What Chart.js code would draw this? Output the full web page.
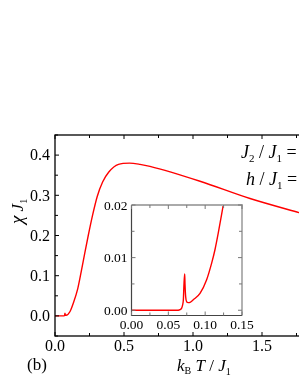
<!DOCTYPE html>
<html>
<head>
<meta charset="utf-8">
<script src="https://cdn.jsdelivr.net/npm/chart.js@4/dist/chart.umd.min.js"></script>
<style>
  html, body { margin: 0; padding: 0; background: #fff; overflow: hidden; }
  #wrap { position: relative; width: 299px; height: 387px; overflow: hidden; }
  #wrap canvas { position: absolute; left: 0; top: 0; }
</style>
</head>
<body>
<div id="wrap">
  <canvas id="main" width="320" height="387"></canvas>
  <canvas id="inset" width="299" height="387"></canvas>
</div>
<script>
// main curve: chi*J1 vs kB T / J1
const mainT   = [0, 0.05, 0.065, 0.07, 0.0722, 0.075, 0.08, 0.109, 0.133, 0.165, 0.19, 0.215, 0.241, 0.272, 0.306, 0.345, 0.39, 0.46, 0.54, 0.616, 0.688, 1.051, 1.413, 1.768, 1.8];
const mainChi = [0, 0, 0, 0.002, 0.0069, 0.0016, 0.0015, 0.011, 0.032, 0.068, 0.11, 0.155, 0.2, 0.25, 0.297, 0.333, 0.358, 0.377, 0.380, 0.377, 0.372, 0.335, 0.292, 0.257, 0.254];

// inset curve (low temperature zoom)
const insetT   = [0, 0.0635, 0.0658, 0.0681, 0.0694, 0.0704, 0.0713, 0.0722, 0.0726, 0.0735, 0.0749, 0.0771, 0.0794, 0.0839, 0.093, 0.102, 0.1089, 0.1133, 0.1178, 0.1246];
const insetChi = [0, 0, 0.0001, 0.0004, 0.001, 0.002, 0.0051, 0.0069, 0.0051, 0.0026, 0.0016, 0.00145, 0.0015, 0.002, 0.0032, 0.0058, 0.009, 0.0115, 0.0147, 0.020];

// tick labels
const mainXTicks  = ['0.0', '0.5', '1.0', '1.5'];
const mainYTicks  = ['0.0', '0.1', '0.2', '0.3', '0.4'];
const insetXTicks = ['0.00', '0.05', '0.10', '0.15'];
const insetYTicks = ['0.00', '0.01', '0.02'];

const SERIF = '"Liberation Serif", "Times New Roman", serif';

function toPoints(xs, ys) {
  return xs.map((x, i) => ({ x: x, y: ys[i] }));
}

// draw a run of text pieces (for italic + subscripts)
function drawRich(ctx, x, y, parts) {
  ctx.textBaseline = 'alphabetic';
  ctx.textAlign = 'left';
  for (const p of parts) {
    ctx.font = p.font;
    ctx.fillText(p.t, x, y + (p.dy || 0));
    x += ctx.measureText(p.t).width;
  }
}

function drawTicks(ctx, scale, vals, side, len, area) {
  ctx.beginPath();
  for (const v of vals) {
    const p = scale.getPixelForValue(v);
    if (side === 'bottom') { ctx.moveTo(p, area.bottom); ctx.lineTo(p, area.bottom - len); }
    if (side === 'top')    { ctx.moveTo(p, area.top);    ctx.lineTo(p, area.top + len); }
    if (side === 'left')   { ctx.moveTo(area.left, p);   ctx.lineTo(area.left + len, p); }
    if (side === 'right')  { ctx.moveTo(area.right, p);  ctx.lineTo(area.right - len, p); }
  }
  ctx.stroke();
}

const mainAxes = {
  id: 'mainAxes',
  afterDraw(chart) {
    const ctx = chart.ctx, a = chart.chartArea;
    const xs = chart.scales.x, ys = chart.scales.y;
    ctx.save();
    ctx.strokeStyle = '#000';
    ctx.lineWidth = 1.3;
    ctx.strokeRect(a.left, a.top, a.right - a.left, a.bottom - a.top);

    ctx.lineWidth = 1;
    const xMaj = mainXTicks.map(Number), xMin = [0.25, 0.75, 1.25, 1.75];
    const yMaj = mainYTicks.map(Number), yMin = [-0.05, 0.05, 0.15, 0.25, 0.35, 0.45];
    drawTicks(ctx, xs, xMaj, 'bottom', 4, a);
    drawTicks(ctx, xs, xMin, 'bottom', 3, a);
    drawTicks(ctx, xs, xMaj, 'top', 4, a);
    drawTicks(ctx, xs, xMin, 'top', 3, a);
    drawTicks(ctx, ys, yMaj, 'left', 4, a);
    drawTicks(ctx, ys, yMin, 'left', 3, a);

    ctx.fillStyle = '#000';
    ctx.font = '16px ' + SERIF;
    ctx.textAlign = 'center';
    ctx.textBaseline = 'top';
    mainXTicks.forEach(t => ctx.fillText(t, xs.getPixelForValue(Number(t)), a.bottom + 3));
    ctx.textAlign = 'right';
    ctx.textBaseline = 'middle';
    mainYTicks.forEach(t => ctx.fillText(t, a.left - 5, ys.getPixelForValue(Number(t)) + 1));

    // axis titles
    const it = 'italic 17px ' + SERIF, up = '17px ' + SERIF, sub = '10px ' + SERIF;
    drawRich(ctx, 177, 371, [
      { t: 'k', font: it }, { t: 'B', font: sub, dy: 3 }, { t: ' ', font: up },
      { t: 'T', font: it }, { t: ' / ', font: up }, { t: 'J', font: it }, { t: '1', font: sub, dy: 4 }
    ]);
    drawRich(ctx, 27, 370, [{ t: '(b)', font: up }]);

    ctx.save();
    ctx.translate(23, 224);
    ctx.rotate(-Math.PI / 2);
    drawRich(ctx, 0, 0, [
      { t: 'χ', font: 'italic 19px ' + SERIF }, { t: ' ', font: up }, { t: 'J', font: it }, { t: '1', font: sub, dy: 4 }
    ]);
    ctx.restore();

    // parameter labels on the right
    const it2 = 'italic 18px ' + SERIF, up2 = '18px ' + SERIF, sub2 = '11px ' + SERIF;
    drawRich(ctx, 241, 158, [
      { t: 'J', font: it2 }, { t: '2', font: sub2, dy: 4 }, { t: ' / ', font: up2 },
      { t: 'J', font: it2 }, { t: '1', font: sub2, dy: 4 }, { t: ' =', font: up2 }
    ]);
    drawRich(ctx, 246, 185, [
      { t: 'h', font: it2 }, { t: ' / ', font: up2 },
      { t: 'J', font: it2 }, { t: '1', font: sub2, dy: 4 }, { t: ' =', font: up2 }
    ]);
    ctx.restore();
  }
};

const insetAxes = {
  id: 'insetAxes',
  beforeDraw(chart) {
    const ctx = chart.ctx, a = chart.chartArea;
    ctx.save();
    ctx.fillStyle = '#fff';
    ctx.fillRect(a.left, a.top, a.right - a.left, a.bottom - a.top);
    ctx.restore();
  },
  afterDraw(chart) {
    const ctx = chart.ctx, a = chart.chartArea;
    const xs = chart.scales.x, ys = chart.scales.y;
    ctx.save();
    ctx.lineWidth = 1.8;
    ctx.strokeStyle = '#aaa';
    ctx.beginPath();
    ctx.moveTo(a.left, a.top); ctx.lineTo(a.right, a.top); ctx.lineTo(a.right, a.bottom);
    ctx.stroke();
    ctx.lineWidth = 1.2;
    ctx.strokeStyle = '#444';
    ctx.beginPath();
    ctx.moveTo(a.left, a.top); ctx.lineTo(a.left, a.bottom); ctx.lineTo(a.right, a.bottom);
    ctx.stroke();

    ctx.lineWidth = 1;
    ctx.strokeStyle = '#777';
    const xMaj = insetXTicks.map(Number), xMin = [0.025, 0.075, 0.125];
    const yMaj = insetYTicks.map(Number), yMin = [0.005, 0.015];
    drawTicks(ctx, xs, xMaj, 'bottom', 4, a);
    drawTicks(ctx, xs, xMin, 'bottom', 3, a);
    drawTicks(ctx, xs, xMaj, 'top', 4, a);
    drawTicks(ctx, xs, xMin, 'top', 3, a);
    drawTicks(ctx, ys, yMaj, 'left', 4, a);
    drawTicks(ctx, ys, yMin, 'left', 3, a);
    drawTicks(ctx, ys, yMaj, 'right', 4, a);
    drawTicks(ctx, ys, yMin, 'right', 3, a);

    ctx.fillStyle = '#000';
    ctx.font = '13.5px ' + SERIF;
    ctx.textAlign = 'center';
    ctx.textBaseline = 'top';
    insetXTicks.forEach(t => ctx.fillText(t, xs.getPixelForValue(Number(t)), a.bottom + 3));
    ctx.textAlign = 'right';
    ctx.textBaseline = 'middle';
    insetYTicks.forEach(t => ctx.fillText(t, a.left - 4, ys.getPixelForValue(Number(t)) + 1));
    ctx.restore();
  }
};

function lineChart(id, xs, ys, xRange, yRange, padding, plugin) {
  return new Chart(document.getElementById(id), {
    type: 'line',
    data: {
      datasets: [{
        data: toPoints(xs, ys),
        borderColor: '#ff0000',
        borderWidth: 1.4,
        pointRadius: 0,
        fill: false,
        cubicInterpolationMode: 'monotone'
      }]
    },
    options: {
      responsive: false,
      animation: false,
      devicePixelRatio: 1,
      layout: { padding: padding },
      plugins: { legend: { display: false }, tooltip: { enabled: false } },
      scales: {
        x: { type: 'linear', min: xRange[0], max: xRange[1], display: false },
        y: { type: 'linear', min: yRange[0], max: yRange[1], display: false }
      }
    },
    plugins: [plugin]
  });
}

lineChart('main', mainT, mainChi, [0, 1.8], [-0.05, 0.45],
  { left: 55, top: 135, right: 16.6, bottom: 51 }, mainAxes);
lineChart('inset', insetT, insetChi, [0, 0.15], [-0.001, 0.02],
  { left: 131.5, top: 205, right: 57, bottom: 71.5 }, insetAxes);
</script>
</body>
</html>
